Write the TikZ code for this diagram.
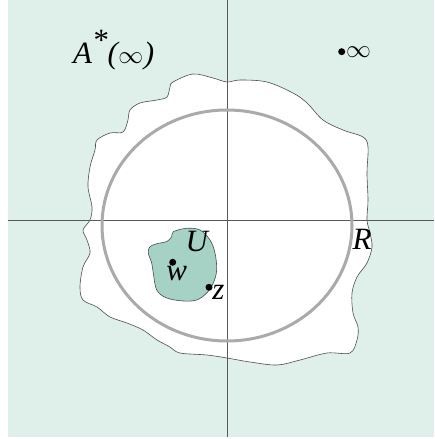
\documentclass[tikz,border=0pt]{standalone}
\usepackage{fontspec}
\setmainfont{Liberation Serif}
\begin{document}
\begin{tikzpicture}[x=1pt,y=-1pt,
  lbl/.style={inner sep=0pt,font=\fontsize{31}{34}\selectfont\itshape},
  dot/.style={circle,fill=black,inner sep=0pt,minimum size=7pt},
  axis/.style={draw=black!65,line width=0.7pt}]
\definecolor{bgc}{RGB}{223,240,234}
\definecolor{ugreen}{RGB}{165,210,197}
\definecolor{ringc}{RGB}{170,170,170}
\useasboundingbox (0,0) rectangle (434,439);
\fill[bgc] (8,0) rectangle (434,437);
% white region
\filldraw[fill=white,draw=black!70,line width=0.6pt] plot[smooth cycle,tension=0.55] coordinates {
(173,82) (193,74) (213,78) (227,82) (240,80) (267,82) (293,93) (307,103) (323,120) (343,130) (363,137) (368,147) (367,173) (368,200) (367,220) (370,233) (372,247) (367,263) (357,277) (352,293) (353,313) (358,327) (357,340) (350,353) (327,353) (300,360) (277,365) (250,362) (227,358) (207,355) (180,353) (170,347) (157,340) (143,330) (127,323) (110,317) (97,307) (83,300) (80,287) (83,267) (90,253) (87,240) (83,230) (90,220) (92,207) (88,187) (90,167) (95,150) (97,140) (110,133) (123,132) (128,120) (130,110) (140,103) (157,100) (167,97) (170,87)};
% axes
\coordinate (xl) at (8,220.7);
\coordinate (xr) at (434,220.7);
\coordinate (yt) at (227.3,0);
\coordinate (yb) at (227.3,437);
\draw[axis] (xl) -- (xr);
\draw[axis] (yt) -- (yb);
% ring
\coordinate (c) at (227,225.5);
\draw[ringc,line width=3pt] (c) ellipse [x radius=125,y radius=115.5];
% U region
\filldraw[fill=ugreen,draw=black!70,line width=0.6pt] plot[smooth cycle,tension=0.55] coordinates {
(173.3,231.7) (186.7,228.3) (200,230) (210,240) (215,253) (216.7,270) (213.3,283) (206.7,293) (196.7,300) (183.3,301) (166.7,298) (156.7,290) (153.3,273) (151.7,263) (148.3,253) (150,246.7) (158.3,243.3) (166.7,241.7) (171.7,236.7)};
% points
\node[dot] (w) at (172.7,262.3) {};
\node[dot] (z) at (209,287.3) {};
\node[dot] (inf) at (341.7,51.7) {};
% labels
\node[lbl] (wl) at (176.7,274) {w};
\node[lbl] (zl) at (218.5,292) {z};
\node[lbl] (ul) at (196.7,241) {U};
\node[lbl] (rl) at (362,239) {R};
\node[lbl,anchor=west] (infl) at (346,52) {$\infty$};
\node[lbl,anchor=west] (al) at (73,50) {A\raisebox{0.42em}{*}(\kern0.5pt$\infty$\kern0.5pt)};
\end{tikzpicture}
\end{document}
